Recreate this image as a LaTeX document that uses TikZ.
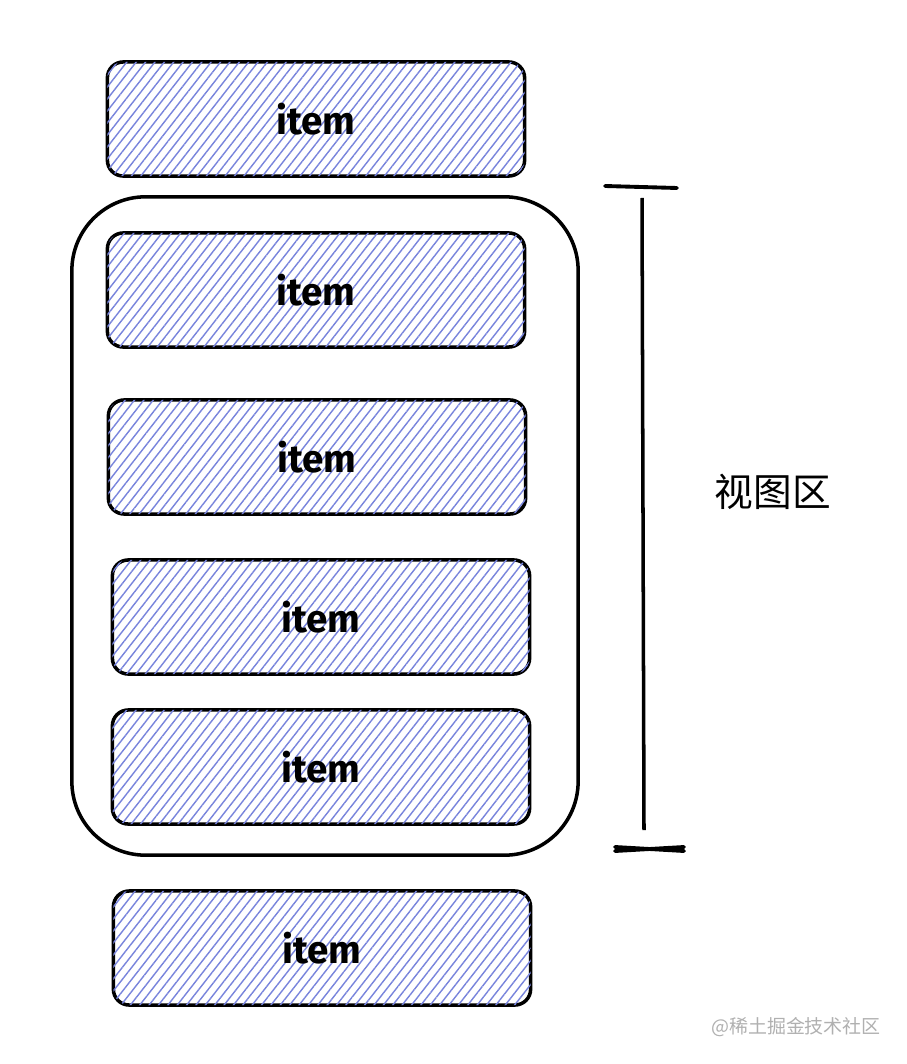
\documentclass[tikz,border=0pt]{standalone}
\usepackage{fontspec}
\usetikzlibrary{patterns.meta}
\newfontfamily\cjk{Noto Sans CJK SC}
\newfontfamily\itemfont{Fira Sans}
\definecolor{hatchblue}{RGB}{120,132,220}
\definecolor{markgray}{RGB}{176,176,176}

\begin{document}
\begin{tikzpicture}[
    x=0.01cm, y=-0.01cm,
    itembox/.style={draw, line width=1pt, rounded corners=4.5pt,
                    minimum width=4.17cm, minimum height=1.14cm,
                    fill=white,
                    postaction={pattern={Lines[angle=52, distance=2.1pt,
                                line width=0.4pt]},
                                pattern color=hatchblue},
                    font=\itemfont\bfseries\fontsize{11}{13}\selectfont},
    viewbox/.style={draw, line width=1pt, rounded corners=21pt,
                    minimum width=5.06cm, minimum height=6.58cm},
    tick/.style={line width=1.1pt, line cap=round}
  ]
  \useasboundingbox (0,0) rectangle (906,1064);

  % the viewport frame
  \node[viewbox] (view) at (325,526) {};

  % list items
  \node[itembox] (item1) at (316,119) {item};
  \node[itembox] (item2) at (316,290) {item};
  \node[itembox] (item3) at (317,457) {item};
  \node[itembox] (item4) at (321,617) {item};
  \node[itembox] (item5) at (321,767) {item};
  \node[itembox] (item6) at (322,948) {item};

  % height marker
  \coordinate (dimtop) at (642,198);
  \coordinate (dimbot) at (644,830);
  \draw[line width=1pt] (dimtop) -- (dimbot);
  \draw[tick] (605,186) -- (677,188);
  \draw[tick] (615,847) -- (684,851);
  \draw[tick] (615,851) -- (684,847);

  \node[font=\cjk\fontsize{11}{13}\selectfont] (label) at (773,492) {视图区};
  \node[font=\cjk\fontsize{5.4}{6}\selectfont, text=markgray] (mark)
    at (796,1027) {@稀土掘金技术社区};
\end{tikzpicture}
\end{document}
